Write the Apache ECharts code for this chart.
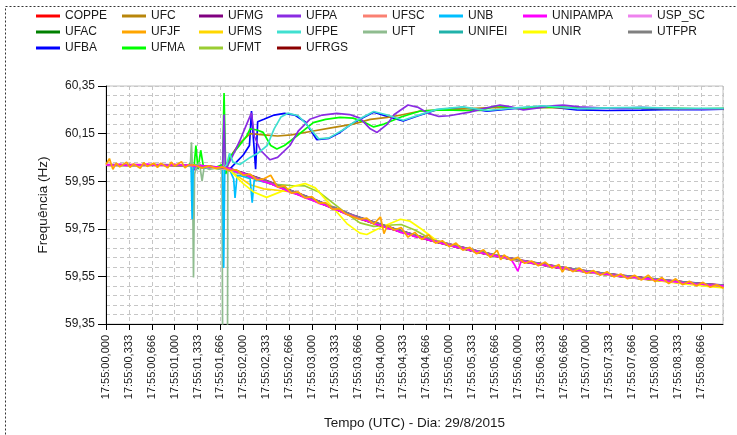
<!DOCTYPE html>
<html><head><meta charset="utf-8">
<script src="https://cdn.jsdelivr.net/npm/echarts@6/dist/echarts.min.js"></script>
<style>html,body{margin:0;padding:0;background:#fff}#c{width:737px;height:435px}</style>
</head><body><div id="c"></div>
<script>
// ---- tick labels ----
const xTickLabels = ['17:55:00,000','17:55:00,333','17:55:00,666','17:55:01,000','17:55:01,333','17:55:01,666','17:55:02,000','17:55:02,333','17:55:02,666','17:55:03,000','17:55:03,333','17:55:03,666','17:55:04,000','17:55:04,333','17:55:04,666','17:55:05,000','17:55:05,333','17:55:05,666','17:55:06,000','17:55:06,333','17:55:06,666','17:55:07,000','17:55:07,333','17:55:07,666','17:55:08,000','17:55:08,333','17:55:08,666'];
const yTickLabels = ['59,35','59,55','59,75','59,95','60,15','60,35'];

// ---- shared time base (s after 17:55:00) for the smooth southern curves ----
const tLow = [0,0.4,0.8,1.2,1.5,1.8,2.1,2.4,2.7,3.0,3.3,3.6,3.9,4.2,4.5,4.8,5.1,5.4,5.7,6.0,6.3,6.6,6.9,7.2,7.5,7.8,8.1,8.4,8.7,9.0];
const COPPE  = [60.019,60.020,60.018,60.017,60.012,60.002,59.975,59.944,59.910,59.877,59.842,59.806,59.778,59.750,59.724,59.700,59.678,59.657,59.638,59.620,59.605,59.590,59.577,59.565,59.554,59.545,59.536,59.527,59.519,59.512];
const UFAC   = [60.017,60.016,60.018,60.015,60.008,59.997,59.970,59.940,59.906,59.872,59.838,59.803,59.774,59.746,59.720,59.696,59.674,59.653,59.634,59.616,59.601,59.586,59.573,59.561,59.550,59.541,59.532,59.523,59.515,59.508];
const UFMG   = [60.020,60.019,60.020,60.018,60.013,60.004,59.976,59.946,59.911,59.878,59.843,59.808,59.779,59.751,59.725,59.701,59.679,59.658,59.639,59.621,59.606,59.591,59.578,59.566,59.555,59.546,59.537,59.528,59.520,59.513];
const UFRGS  = [60.016,60.017,60.016,60.015,60.009,59.998,59.969,59.939,59.905,59.872,59.837,59.802,59.773,59.745,59.719,59.695,59.673,59.652,59.633,59.615,59.600,59.585,59.572,59.560,59.549,59.540,59.531,59.522,59.514,59.507];
const UFSC   = [60.018,60.019,60.017,60.016,60.011,60.001,59.973,59.943,59.909,59.876,59.841,59.806,59.777,59.749,59.723,59.699,59.677,59.656,59.637,59.619,59.604,59.589,59.576,59.564,59.553,59.544,59.535,59.526,59.518,59.511];
const UNIFEI = [60.018,60.018,60.019,60.016,60.010,60.000,59.971,59.941,59.907,59.874,59.839,59.804,59.775,59.747,59.721,59.697,59.675,59.654,59.635,59.617,59.602,59.587,59.574,59.562,59.551,59.542,59.533,59.524,59.516,59.509];
const USP_SC = [60.017,60.018,60.018,60.016,60.010,59.999,59.972,59.941,59.907,59.873,59.839,59.804,59.775,59.747,59.721,59.697,59.675,59.654,59.635,59.617,59.602,59.587,59.574,59.562,59.551,59.542,59.533,59.524,59.516,59.510];
const UTFPR  = [60.019,60.018,60.019,60.017,60.011,60.002,59.974,59.944,59.909,59.876,59.841,59.806,59.777,59.749,59.723,59.699,59.677,59.656,59.637,59.619,59.604,59.589,59.576,59.564,59.553,59.544,59.535,59.526,59.518,59.511];

// ---- series with their own [time, Hz] samples ----
const UFMS = [[0,60.018],[0.4,60.019],[0.8,60.017],[1.2,60.016],[1.5,60.008],[1.8,59.995],[1.95,59.965],[2.1,59.935],[2.3,59.918],[2.5,59.912],[2.7,59.905],[3.0,59.872],[3.3,59.838],[3.6,59.800],[3.9,59.772],[4.2,59.746],[4.5,59.720],[4.8,59.696],[5.1,59.675],[5.4,59.654],[5.7,59.634],[6.0,59.617],[6.3,59.602],[6.6,59.588],[6.9,59.574],[7.2,59.562],[7.5,59.551],[7.8,59.541],[8.1,59.532],[8.4,59.522],[8.7,59.513],[9.0,59.504]];
const UNIR = [[0,60.018],[0.4,60.017],[0.8,60.018],[1.2,60.016],[1.5,60.009],[1.8,59.998],[2.0,59.940],[2.15,59.905],[2.34,59.882],[2.54,59.905],[2.73,59.928],[2.9,59.940],[3.05,59.922],[3.16,59.886],[3.31,59.838],[3.51,59.772],[3.7,59.732],[3.8,59.726],[3.95,59.748],[4.14,59.772],[4.29,59.790],[4.43,59.782],[4.6,59.748],[4.72,59.722],[4.82,59.700],[5.1,59.676],[5.4,59.654],[5.7,59.635],[6.0,59.617],[6.3,59.602],[6.6,59.587],[6.9,59.573],[7.2,59.561],[7.5,59.550],[7.8,59.540],[8.1,59.530],[8.4,59.520],[8.7,59.510],[9.0,59.502]];
const UFMT = [[0,60.018],[0.4,60.018],[0.8,60.017],[1.2,60.016],[1.5,60.010],[1.8,60.000],[2.1,59.965],[2.4,59.938],[2.7,59.932],[2.9,59.930],[3.1,59.905],[3.3,59.860],[3.5,59.815],[3.7,59.775],[3.9,59.760],[4.1,59.765],[4.3,59.768],[4.5,59.745],[4.7,59.712],[4.9,59.692],[5.1,59.677],[5.4,59.656],[5.7,59.637],[6.0,59.619],[6.3,59.604],[6.6,59.589],[6.9,59.576],[7.2,59.564],[7.5,59.553],[7.8,59.543],[8.1,59.533],[8.4,59.524],[8.7,59.515],[9.0,59.507]];
const UFT = [[0,60.018],[0.4,60.017],[0.8,60.018],[1.2,60.016],[1.23,60.020],[1.245,60.114],[1.26,60.000],[1.275,59.545],[1.29,59.980],[1.32,60.010],[1.36,60.030],[1.4,59.950],[1.43,60.010],[1.5,60.000],[1.6,60.005],[1.69,60.010],[1.70,59.200],[1.77,59.200],[1.775,59.995],[1.8,59.995],[2.1,59.970],[2.4,59.940],[2.7,59.906],[3.0,59.873],[3.3,59.839],[3.6,59.804],[3.9,59.775],[4.2,59.747],[4.5,59.721],[4.8,59.697],[5.1,59.675],[5.4,59.654],[5.7,59.635],[6.0,59.617],[6.3,59.602],[6.6,59.587],[6.9,59.574],[7.2,59.562],[7.5,59.551],[7.8,59.542],[8.1,59.533],[8.4,59.524],[8.7,59.516],[9.0,59.509]];
const UNB = [[0,60.018],[0.4,60.018],[0.8,60.019],[1.2,60.016],[1.24,60.010],[1.255,59.790],[1.27,60.000],[1.3,60.020],[1.4,60.005],[1.5,60.010],[1.6,60.005],[1.7,60.000],[1.715,59.585],[1.73,60.000],[1.8,60.000],[1.86,59.960],[1.88,59.880],[1.91,59.975],[2.0,59.970],[2.1,59.960],[2.13,59.860],[2.16,59.955],[2.4,59.942],[2.7,59.909],[3.0,59.876],[3.3,59.841],[3.6,59.806],[3.9,59.777],[4.2,59.749],[4.5,59.723],[4.8,59.699],[5.1,59.677],[5.4,59.656],[5.7,59.637],[6.0,59.619],[6.3,59.604],[6.6,59.589],[6.9,59.576],[7.2,59.564],[7.5,59.553],[7.8,59.544],[8.1,59.535],[8.4,59.526],[8.7,59.518],[9.0,59.511]];
const UFJF = [[0,60.020],[0.05,60.045],[0.1,60.000],[0.15,60.026],[0.2,60.010],[0.3,60.030],[0.35,60.008],[0.4,60.022],[0.5,60.004],[0.55,60.028],[0.6,60.012],[0.7,60.026],[0.75,60.008],[0.8,60.026],[0.9,60.006],[0.95,60.030],[1.0,60.014],[1.1,60.032],[1.15,60.006],[1.2,60.018],[1.3,60.018],[1.4,60.005],[1.5,60.015],[1.6,60.004],[1.7,60.010],[1.8,59.995],[1.9,59.998],[2.0,59.975],[2.1,59.980],[2.2,59.955],[2.3,59.960],[2.4,59.975],[2.5,59.925],[2.6,59.930],[2.7,59.900],[2.8,59.905],[2.9,59.880],[3.0,59.885],[3.1,59.858],[3.2,59.860],[3.3,59.832],[3.4,59.835],[3.5,59.812],[3.6,59.800],[3.7,59.790],[3.8,59.795],[3.9,59.770],[4.0,59.800],[4.05,59.730],[4.1,59.765],[4.2,59.745],[4.3,59.755],[4.4,59.715],[4.5,59.735],[4.6,59.705],[4.7,59.725],[4.8,59.690],[4.9,59.700],[5.0,59.675],[5.1,59.690],[5.2,59.660],[5.3,59.672],[5.4,59.645],[5.5,59.662],[5.6,59.630],[5.7,59.660],[5.75,59.620],[5.8,59.640],[5.9,59.618],[6.0,59.630],[6.1,59.605],[6.2,59.615],[6.3,59.595],[6.4,59.610],[6.5,59.585],[6.6,59.600],[6.65,59.568],[6.7,59.590],[6.8,59.570],[6.9,59.585],[7.0,59.562],[7.1,59.575],[7.2,59.555],[7.3,59.570],[7.4,59.548],[7.5,59.560],[7.6,59.540],[7.7,59.555],[7.8,59.535],[7.9,59.555],[8.0,59.528],[8.1,59.545],[8.2,59.520],[8.3,59.540],[8.4,59.515],[8.5,59.530],[8.6,59.510],[8.7,59.525],[8.8,59.505],[8.9,59.515],[9.0,59.500]];
const UNIPAMPA = [[0,60.020],[0.1,60.017],[0.2,60.021],[0.3,60.016],[0.4,60.020],[0.5,60.018],[0.6,60.022],[0.7,60.017],[0.8,60.020],[0.9,60.016],[1.0,60.021],[1.1,60.017],[1.2,60.019],[1.3,60.012],[1.4,60.016],[1.5,60.011],[1.6,60.010],[1.7,60.008],[1.8,60.003],[1.9,59.989],[2.0,59.983],[2.1,59.968],[2.2,59.960],[2.3,59.948],[2.4,59.940],[2.5,59.926],[2.6,59.915],[2.7,59.902],[2.8,59.893],[2.9,59.880],[3.0,59.871],[3.1,59.857],[3.2,59.849],[3.3,59.834],[3.4,59.826],[3.5,59.811],[3.6,59.803],[3.7,59.790],[3.8,59.784],[3.9,59.771],[4.0,59.765],[4.1,59.752],[4.2,59.746],[4.3,59.734],[4.4,59.729],[4.5,59.717],[4.6,59.713],[4.7,59.702],[4.8,59.697],[4.9,59.688],[5.0,59.683],[5.1,59.673],[5.2,59.669],[5.3,59.660],[5.4,59.655],[5.5,59.646],[5.6,59.642],[5.7,59.634],[5.8,59.631],[5.9,59.622],[5.95,59.600],[6.0,59.572],[6.05,59.615],[6.1,59.612],[6.2,59.606],[6.3,59.603],[6.4,59.596],[6.5,59.593],[6.6,59.586],[6.7,59.584],[6.8,59.577],[6.9,59.575],[7.0,59.569],[7.1,59.567],[7.2,59.561],[7.3,59.559],[7.4,59.554],[7.5,59.552],[7.6,59.547],[7.7,59.546],[7.8,59.541],[7.9,59.540],[8.0,59.535],[8.1,59.534],[8.2,59.529],[8.3,59.528],[8.4,59.523],[8.5,59.522],[8.6,59.518],[8.7,59.517],[8.8,59.513],[8.9,59.512],[9.0,59.509]];

// ---- north / northeast group ----
const UFPA = [[0,60.018],[0.4,60.019],[0.8,60.017],[1.2,60.016],[1.25,60.025],[1.3,59.995],[1.36,60.020],[1.45,60.005],[1.6,60.008],[1.7,60.010],[1.72,60.230],[1.74,60.000],[1.78,60.020],[1.85,60.060],[1.95,60.120],[2.05,60.190],[2.12,60.237],[2.16,60.140],[2.25,60.080],[2.39,60.040],[2.5,60.050],[2.68,60.100],[2.8,60.160],[2.97,60.210],[3.15,60.228],[3.36,60.235],[3.55,60.230],[3.7,60.215],[3.85,60.170],[3.95,60.155],[4.1,60.190],[4.2,60.230],[4.4,60.270],[4.55,60.260],[4.7,60.235],[4.85,60.222],[5.0,60.225],[5.3,60.240],[5.5,60.255],[5.74,60.270],[5.9,60.262],[6.08,60.250],[6.3,60.258],[6.5,60.267],[6.66,60.270],[6.9,60.262],[7.2,60.258],[7.5,60.256],[7.8,60.260],[8.1,60.256],[8.4,60.254],[8.7,60.253],[9.0,60.254]];
const UFC = [[0,60.018],[0.4,60.018],[0.8,60.019],[1.2,60.016],[1.3,60.010],[1.5,60.008],[1.7,60.005],[1.78,60.030],[1.85,60.070],[1.95,60.110],[2.1,60.150],[2.3,60.145],[2.5,60.140],[2.7,60.145],[3.0,60.160],[3.3,60.175],[3.6,60.190],[3.85,60.210],[4.1,60.218],[4.3,60.228],[4.58,60.245],[4.9,60.250],[5.3,60.255],[5.7,60.260],[6.0,60.257],[6.4,60.260],[6.8,60.258],[7.2,60.257],[7.6,60.258],[8.0,60.256],[8.4,60.255],[8.7,60.254],[9.0,60.255]];
const UFMA = [[0,60.018],[0.4,60.017],[0.8,60.018],[1.2,60.017],[1.24,60.030],[1.28,60.000],[1.31,60.100],[1.34,60.000],[1.38,60.080],[1.42,60.010],[1.5,60.010],[1.6,60.008],[1.7,60.020],[1.72,60.320],[1.745,59.980],[1.8,60.050],[1.93,60.095],[2.05,60.140],[2.1,60.170],[2.2,60.165],[2.29,60.155],[2.4,60.100],[2.49,60.085],[2.6,60.100],[2.78,60.140],[3.02,60.196],[3.2,60.210],[3.41,60.218],[3.6,60.215],[3.75,60.200],[3.9,60.178],[4.05,60.190],[4.3,60.220],[4.58,60.245],[4.9,60.250],[5.2,60.247],[5.45,60.247],[5.7,60.267],[6.0,60.255],[6.3,60.260],[6.6,60.262],[7.0,60.256],[7.4,60.258],[7.8,60.257],[8.2,60.256],[8.6,60.254],[9.0,60.255]];
const UFBA = [[0,60.018],[0.4,60.018],[0.8,60.017],[1.2,60.016],[1.3,60.010],[1.5,60.008],[1.7,60.004],[1.8,60.000],[1.9,60.030],[2.0,60.060],[2.09,60.100],[2.12,60.245],[2.15,60.120],[2.18,60.000],[2.21,60.200],[2.3,60.210],[2.45,60.228],[2.6,60.235],[2.75,60.228],[2.9,60.200],[3.07,60.125],[3.25,60.130],[3.41,60.155],[3.55,60.185],[3.7,60.210],[3.9,60.240],[4.1,60.222],[4.33,60.203],[4.55,60.225],[4.82,60.250],[5.2,60.260],[5.55,60.244],[5.93,60.255],[6.37,60.265],[6.86,60.250],[7.3,60.247],[7.8,60.249],[8.3,60.252],[8.7,60.251],[9.0,60.253]];
const UFPE = [[0,60.018],[0.4,60.018],[0.8,60.018],[1.2,60.016],[1.3,60.012],[1.5,60.008],[1.7,60.004],[1.76,60.020],[1.8,60.068],[1.85,60.030],[1.95,60.020],[2.1,60.050],[2.2,60.065],[2.35,60.100],[2.45,60.170],[2.55,60.220],[2.65,60.236],[2.8,60.225],[2.95,60.180],[3.1,60.128],[3.25,60.132],[3.45,60.165],[3.65,60.205],[3.9,60.243],[4.1,60.228],[4.33,60.206],[4.6,60.232],[4.82,60.252],[5.2,60.262],[5.55,60.247],[5.93,60.257],[6.37,60.267],[6.86,60.255],[7.3,60.258],[7.8,60.260],[8.3,60.256],[9.0,60.256]];

const names  = ['COPPE','UFAC','UFBA','UFC','UFJF','UFMA','UFMG','UFMS','UFMT','UFPA','UFPE','UFRGS','UFSC','UFT','UNB','UNIFEI','UNIPAMPA','UNIR','USP_SC','UTFPR'];
const colors = ['#ff0000','#008000','#0000ff','#b8860b','#ffa500','#00ff00','#800080','#ffd700','#9acd32','#8a2be2','#40e0d0','#8b0000','#fa8072','#8fbc8f','#00bfff','#20b2aa','#ff00ff','#ffff00','#ee82ee','#808080'];
const sources = {COPPE,UFAC,UFBA,UFC,UFJF,UFMA,UFMG,UFMS,UFMT,UFPA,UFPE,UFRGS,UFSC,UFT,UNB,UNIFEI,UNIPAMPA,UNIR,USP_SC,UTFPR};
const legendCols = [['COPPE','UFAC','UFBA'],['UFC','UFJF','UFMA'],['UFMG','UFMS','UFMT'],['UFPA','UFPE','UFRGS'],['UFSC','UFT'],['UNB','UNIFEI'],['UNIPAMPA','UNIR'],['USP_SC','UTFPR']];
const legendLeft = [36,122,199,277,363,439,523,628];
const onTop = {UFJF:4, UNIPAMPA:3};

function toPairs(src){ return (typeof src[0] === 'number') ? src.map((v,i)=>[tLow[i], v]) : src; }

const FONT = '"Liberation Sans", Arial, sans-serif';
const series = names.map((n,i)=>({
  name:n, type:'line', data: toPairs(sources[n]), showSymbol:false, symbol:'none', z: onTop[n] || 2,
  lineStyle:{width:1.7, color:colors[i]}, itemStyle:{color:colors[i]}, clip:true, animation:false
}));

const legends = legendCols.map((d,i)=>({
  data:d, orient:'vertical', left:legendLeft[i], top:10, padding:0, itemGap:4,
  icon:'rect', itemWidth:24, itemHeight:3, selectedMode:false,
  textStyle:{fontSize:12, color:'#1a1a1a', fontFamily:FONT}
}));

const gridLine = {show:true, lineStyle:{color:'#c6c6c6', type:[4,3], width:1}};
const chart = echarts.init(document.getElementById('c'), null, {renderer:'canvas'});
chart.setOption({
  backgroundColor:'#fff', animation:false,
  textStyle:{fontFamily:FONT},
  legend: legends,
  graphic:[{type:'rect', shape:{x:5.5,y:6.5,width:740,height:440}, style:{fill:'none', stroke:'#333', lineWidth:1, lineDash:[2,2]}, silent:true}],
  grid:{left:106, right:14, top:86, bottom:107, show:true, borderColor:'#c0c0c0', borderWidth:1, backgroundColor:'transparent'},
  xAxis:{type:'value', min:0, max:8.99, interval:1/3,
    name:'Tempo (UTC) - Dia: 29/8/2015', nameLocation:'middle', nameGap:92,
    nameTextStyle:{fontSize:13.5, color:'#1a1a1a', fontFamily:FONT},
    axisLine:{lineStyle:{color:'#000'}}, axisTick:{show:true, length:6, lineStyle:{color:'#000'}},
    axisLabel:{rotate:90, margin:11, fontSize:11, color:'#1a1a1a', fontFamily:FONT, showMaxLabel:false,
      formatter:v=>{const k=Math.round(v*3); return Math.abs(v*3-k)<1e-6 ? (xTickLabels[k]||'') : '';}},
    splitLine:gridLine},
  yAxis:{type:'value', min:59.35, max:60.35, interval:0.2,
    name:'Frequência (Hz)', nameLocation:'middle', nameGap:56,
    nameTextStyle:{fontSize:13.5, color:'#1a1a1a', fontFamily:FONT},
    axisLine:{show:true, lineStyle:{color:'#000'}}, axisTick:{show:true, length:8, lineStyle:{color:'#000'}},
    axisLabel:{margin:11, fontSize:12, color:'#1a1a1a', fontFamily:FONT,
      formatter:v=>{const k=Math.round((v-59.35)/0.2); return yTickLabels[k]||'';}},
    splitLine:gridLine,
    minorTick:{show:false, splitNumber:5},
    minorSplitLine:gridLine},
  tooltip:{show:false},
  series: series
});
</script></body></html>
